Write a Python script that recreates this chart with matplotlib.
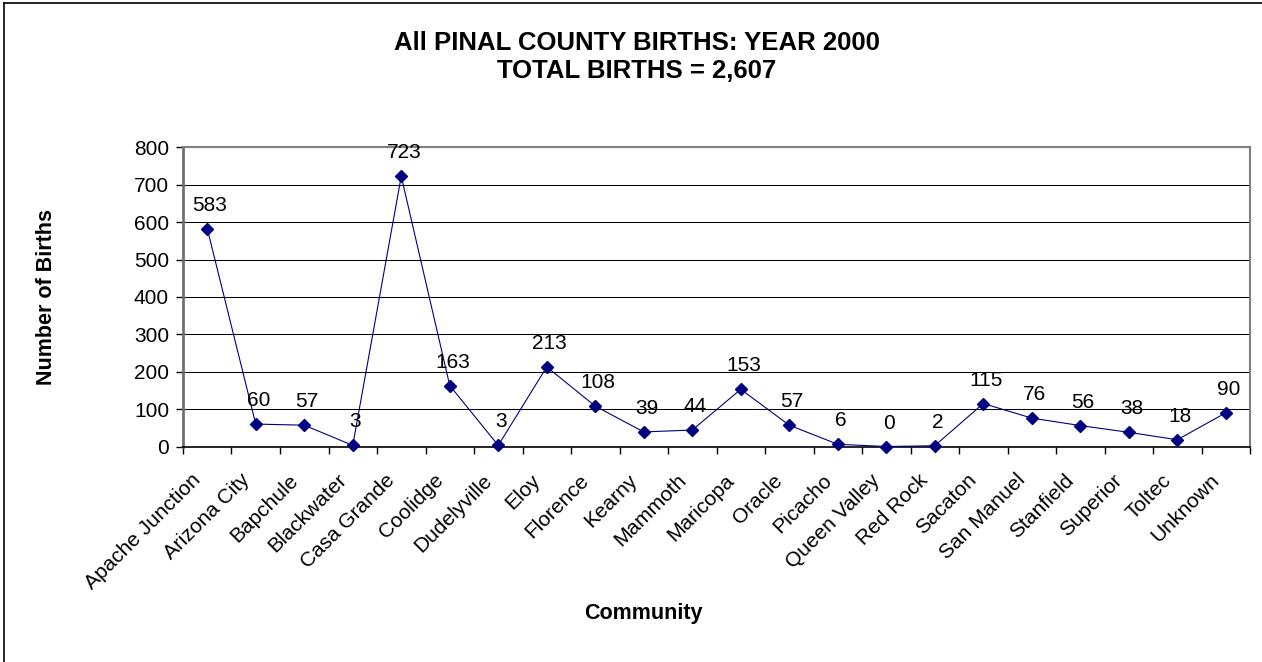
import matplotlib
matplotlib.use("Agg")
import matplotlib.pyplot as plt
import matplotlib.transforms as mtransforms
from matplotlib.lines import Line2D

plt.rcParams['font.family'] = ['Liberation Sans', 'DejaVu Sans']

# данные графика
communities = ["Apache Junction", "Arizona City", "Bapchule", "Blackwater", "Casa Grande",
               "Coolidge", "Dudelyville", "Eloy", "Florence", "Kearny", "Mammoth",
               "Maricopa", "Oracle", "Picacho", "Queen Valley", "Red Rock", "Sacaton",
               "San Manuel", "Stanfield", "Superior", "Toltec", "Unknown"]
births = [583, 60, 57, 3, 723, 163, 3, 213, 108, 39, 44, 153, 57, 6, 0, 2, 115, 76, 56, 38, 18, 90]
y_ticks = [0, 100, 200, 300, 400, 500, 600, 700, 800]

fig = plt.figure(figsize=(12.62, 6.62), dpi=100, facecolor='white')
ax = fig.add_axes([183 / 1262, 1 - 446.5 / 662, 1067 / 1262, 299 / 662])

# рамка вокруг картинки (видны только верх и левая сторона)
fig.add_artist(Line2D([4 / 1262, 1], [1 - 3 / 662, 1 - 3 / 662], transform=fig.transFigure,
                      color='black', linewidth=1.2))
fig.add_artist(Line2D([4 / 1262, 4 / 1262], [0, 1 - 3 / 662], transform=fig.transFigure,
                      color='black', linewidth=1.2))

x = list(range(len(communities)))
ax.plot(x, births, color='#000080', linewidth=0.8, marker='D', markersize=6.5,
        markerfacecolor='#000080', markeredgecolor='#000080', zorder=3, clip_on=False)

for xi, v in zip(x, births):
    ax.annotate(str(v), (xi, v), xytext=(2, 10), textcoords='offset points',
                ha='center', va='bottom', fontsize=15, color='black')

ax.set_xlim(-0.5, len(communities) - 0.5)
ax.set_ylim(0, 800)
ax.set_yticks(y_ticks)
ax.set_yticklabels([str(t) for t in y_ticks], fontsize=15)
ax.yaxis.grid(True, color='black', linewidth=0.75)
ax.set_axisbelow(True)

# деления оси X между категориями, подписи - отдельным текстом
ax.set_xticks([i - 0.5 for i in range(len(communities) + 1)])
ax.set_xticklabels([])
shift = mtransforms.ScaledTranslation(-0.16, -0.24, fig.dpi_scale_trans)
for xi, name in zip(x, communities):
    ax.text(xi, 0, name, transform=ax.get_xaxis_transform() + shift,
            rotation=45, ha='right', va='top', rotation_mode='anchor', fontsize=15)
ax.tick_params(axis='x', length=5, width=1, direction='out', color='black')
ax.tick_params(axis='y', length=5, width=1, direction='out', color='black', pad=5)

for s in ['top', 'right']:
    ax.spines[s].set_color('#808080')
    ax.spines[s].set_linewidth(1.5)
ax.spines['left'].set_color('#707070')
ax.spines['left'].set_linewidth(2.0)
ax.spines['bottom'].set_color('black')
ax.spines['bottom'].set_linewidth(1.2)

ax.set_ylabel("Number of Births", fontsize=15.5, fontweight='bold')
ax.set_xlabel("Community", fontsize=15.5, fontweight='bold')
ax.xaxis.set_label_coords((643 - 183) / 1067, -(603 - 446.5) / 299)
ax.yaxis.set_label_coords(-(183 - 57) / 1067, 0.5)

fig.text(637 / 1262, 1 - 57 / 662, "All PINAL COUNTY BIRTHS: YEAR 2000\nTOTAL BIRTHS = 2,607",
         ha='center', va='center', fontsize=18.5, fontweight='bold', linespacing=1.17)

fig.savefig("out.png", dpi=100)
